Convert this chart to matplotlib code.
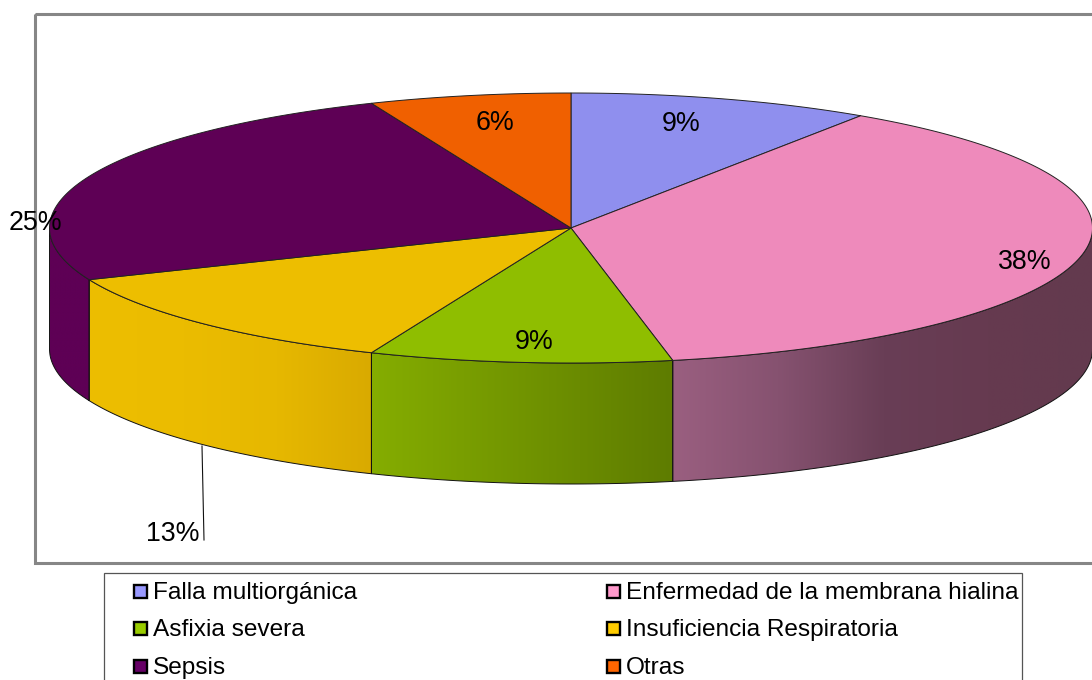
import numpy as np
import matplotlib
matplotlib.use("Agg")
import matplotlib.pyplot as plt
from matplotlib.colors import LinearSegmentedColormap
from matplotlib.patches import Polygon, Rectangle

plt.rcParams['font.family'] = ['Liberation Sans', 'DejaVu Sans']

# Data
categories = ["Falla multiorgánica", "Enfermedad de la membrana hialina", "Asfixia severa",
              "Insuficiencia Respiratoria", "Sepsis", "Otras"]
values = [3, 12, 3, 4, 8, 2]

# Colours
top_colors = ["#8F8FEE", "#EE8ABB", "#8FBE00", "#EDBE00", "#5E0055", "#F06000"]
swatch_colors = ["#9999FF", "#FF99CC", "#99CC00", "#FFCC00", "#660066", "#FF6600"]
side_colors = [None,
               ["#9A5F80", "#865270", "#693E56", "#663A50", "#633A4E"],
               ["#85AD00", "#5E7C00"],
               ["#EDBE00", "#EBBC00", "#E6B800", "#D9AA00"],
               ["#5E0055", "#5E0055"],
               None]

# Layout, in pixels of the picture
cx, cy, rx, ry, depth = 571, 228, 521.5, 135, 121
label_pos = [(681, 124), (1025, 262), (534, 342), (173, 534), (35, 223), (495, 123)]
legend_x = [133, 606]
legend_y = [594, 631, 669]


def arc(t0, t1, dy=0):
    # angles in degrees, clockwise from 12 o'clock
    t = np.radians(np.linspace(t0, t1, 200))
    return np.column_stack([cx + rx * np.sin(t), cy - ry * np.cos(t) + dy])


fig = plt.figure(figsize=(10.92, 6.8), dpi=100)
ax = fig.add_axes([0, 0, 1, 1])

edges = np.cumsum([0] + values) / sum(values) * 360

# Side walls first, only the front half of the rim shows
for i in range(len(values)):
    t0, t1 = max(edges[i], 90), min(edges[i + 1], 270)
    if t0 >= t1:
        continue
    pts = np.vstack([arc(t0, t1), arc(t0, t1, depth)[::-1]])
    poly = Polygon(pts, closed=True, facecolor="none", edgecolor="#111111", linewidth=0.7, zorder=3)
    ax.add_patch(poly)
    x0, x1 = pts[:, 0].min(), pts[:, 0].max()
    y0, y1 = pts[:, 1].min(), pts[:, 1].max()
    cmap = LinearSegmentedColormap.from_list("side", side_colors[i])
    grad = np.linspace(0, 1, 256).reshape(1, -1)
    im = ax.imshow(grad, extent=[x0, x1, y1, y0], aspect="auto", cmap=cmap, zorder=2)
    im.set_clip_path(poly)

# Top of the pie
for i in range(len(values)):
    pts = np.vstack([[cx, cy], arc(edges[i], edges[i + 1])])
    ax.add_patch(Polygon(pts, closed=True, facecolor=top_colors[i], edgecolor="#222222",
                         linewidth=0.7, zorder=4))

# Plot area frame, runs off the right side
ax.add_patch(Rectangle((35, 14), 1100, 549, facecolor="none", edgecolor="#868686", linewidth=2.2, zorder=1))

# Leader line of the 13% label
ax.plot([202, 204], [446, 540], color="#111111", linewidth=0.8, zorder=5)

# Percent labels
for v, (x, y) in zip(values, label_pos):
    ax.text(x, y, f"{int(v / sum(values) * 100 + 0.5)}%", fontsize=19.3, ha="center", va="center",
            color="black", zorder=6)

# Legend
ax.add_patch(Rectangle((104, 573), 918, 140, facecolor="white", edgecolor="#555555", linewidth=0.9, zorder=1))
for i, name in enumerate(categories):
    x = legend_x[i % 2]
    y = legend_y[i // 2]
    ax.add_patch(Rectangle((x + 1, y - 9), 13, 13, facecolor=swatch_colors[i], edgecolor="black",
                           linewidth=1.7, zorder=6))
    ax.text(x + 20, y - 1, name, fontsize=17.6, ha="left", va="center", color="black", zorder=6)

ax.set_xlim(0, 1092)
ax.set_ylim(680, 0)
ax.axis("off")

fig.savefig("out.png", dpi=100)
